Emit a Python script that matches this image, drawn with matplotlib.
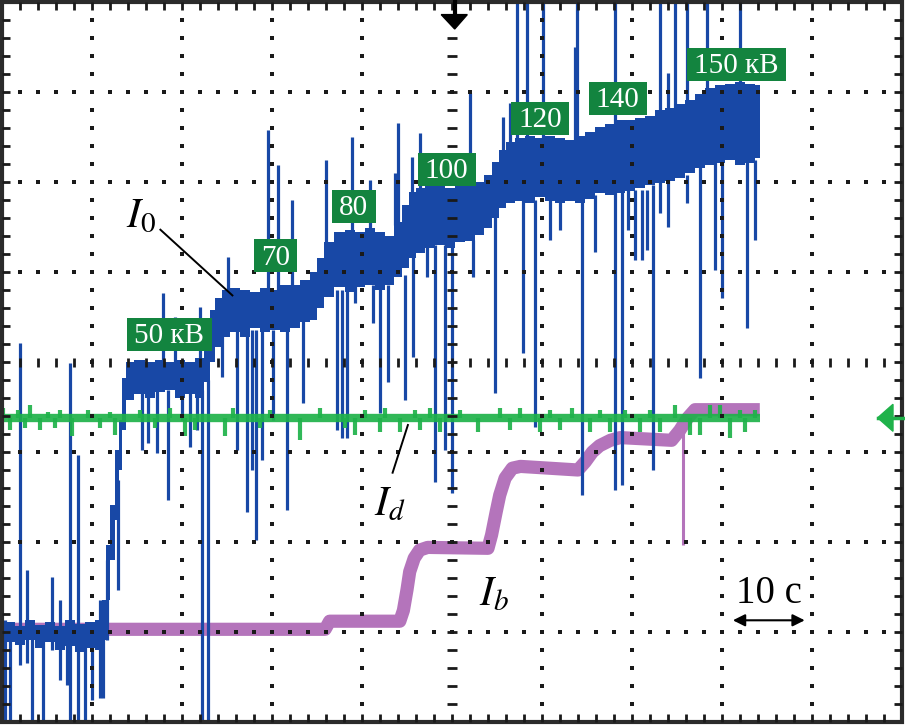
import matplotlib
matplotlib.use('Agg')
import matplotlib.pyplot as plt
from matplotlib.patches import Rectangle, Polygon
import numpy as np

# oscilloscope screen, all values in divisions (10 x 8 screen)
# I0 : noisy band envelope (time, top, bottom)
i0_t = [0.00, 0.09, 0.20, 0.31, 0.42, 0.53, 0.64, 0.76, 0.87, 0.98, 1.09,
        1.14, 1.18, 1.22, 1.28, 1.31, 1.36, 1.40,
        1.53, 1.64, 1.76, 1.87, 1.98, 2.09, 2.20,
        2.29, 2.33, 2.40, 2.48,
        2.59, 2.70, 2.81, 2.92, 3.03, 3.14, 3.26, 3.37, 3.48,
        3.53, 3.62, 3.76, 3.87, 3.98, 4.09, 4.20, 4.31, 4.40,
        4.48, 4.56, 4.64, 4.76, 4.87, 4.98, 5.09, 5.20, 5.31, 5.40,
        5.48, 5.56, 5.64, 5.76, 5.87, 5.98, 6.09, 6.20, 6.31, 6.42, 6.53,
        6.64, 6.76, 6.87, 6.98, 7.09, 7.20, 7.31, 7.42, 7.53, 7.64, 7.76,
        7.87, 7.98, 8.09, 8.20, 8.31, 8.42]
i0_top = [-2.91, -2.89, -2.93, -2.87, -2.92, -2.89, -2.93, -2.87, -2.91, -2.89, -2.87,
          -2.64, -2.03, -1.59, -0.98, -0.64, -0.18, 0.00,
          0.02, 0.00, 0.02, 0.00, 0.02, 0.00, 0.04,
          0.24, 0.58, 0.71, 0.80,
          0.82, 0.80, 0.78, 0.82, 0.80, 0.86, 0.86, 0.91, 1.00,
          1.16, 1.33, 1.44, 1.47, 1.44, 1.49, 1.44, 1.40, 1.56,
          1.74, 1.89, 1.93, 1.96, 1.97, 1.93, 1.97, 1.98, 2.00, 2.08,
          2.22, 2.36, 2.44, 2.49, 2.51, 2.49, 2.51, 2.49, 2.47, 2.51, 2.56,
          2.61, 2.64, 2.69, 2.69, 2.71, 2.73, 2.80, 2.82, 2.87, 2.91, 2.98,
          3.04, 3.08, 3.09, 3.11, 3.09, 3.08]
i0_bot = [-3.09, -3.11, -3.14, -3.09, -3.18, -3.11, -3.20, -3.16, -3.22, -3.18, -3.20,
          -3.09, -2.64, -2.20, -1.76, -1.20, -0.76, -0.42,
          -0.36, -0.40, -0.33, -0.31, -0.40, -0.35, -0.40,
          -0.22, 0.00, 0.17, 0.28,
          0.33, 0.28, 0.38, 0.33, 0.36, 0.33, 0.38, 0.45, 0.47,
          0.60, 0.72, 0.83, 0.78, 0.83, 0.86, 0.80, 0.86, 0.94,
          1.05, 1.16, 1.21, 1.27, 1.30, 1.27, 1.33, 1.35, 1.41, 1.49,
          1.60, 1.71, 1.77, 1.79, 1.77, 1.83, 1.79, 1.77, 1.79, 1.77, 1.81,
          1.88, 1.86, 1.88, 1.90, 1.93, 1.97, 1.99, 2.01, 2.05, 2.10, 2.16,
          2.19, 2.21, 2.24, 2.19, 2.21, 2.27]

# I0 spikes: time, from, to
sp_t = [0.03, 0.09, 0.20, 0.28, 0.33, 0.46, 0.56, 0.64, 0.72, 0.76, 0.84, 0.92,
        1.00, 1.09, 1.12, 1.17, 1.29,
        1.56, 1.62, 1.72, 1.79, 1.84, 1.92, 2.00, 2.09, 2.17, 2.20, 2.22, 2.29,
        2.44, 2.51, 2.61, 2.72, 2.78, 2.82, 2.89, 2.96, 3.01, 3.07, 3.17, 3.22,
        3.34, 3.60, 3.72, 3.78, 3.83,
        3.89, 3.92, 4.09, 4.12, 4.20, 4.29, 4.37, 4.40, 4.48, 4.56, 4.57, 4.64,
        4.72, 4.81, 4.92, 5.00, 5.20, 5.23, 5.48, 5.57, 5.64, 5.72, 5.79, 5.83,
        5.92, 6.01, 6.09, 6.20, 6.37, 6.39, 6.44,
        6.59, 6.81, 6.81, 6.89, 6.96, 7.03, 7.11, 7.17, 7.23, 7.31, 7.31, 7.40,
        7.40, 7.48, 7.61, 7.61, 7.76, 7.83, 7.92, 8.00, 8.20, 8.28, 8.37]
sp_a = [-2.87, -3.00, 0.21, -2.31, -3.00, -3.00, -2.39, -2.64, -2.92, -0.01, -1.03, -3.00,
        -2.98, -2.64, -2.96, -2.20, -1.31,
        -0.31, -0.31, -0.31, 0.77, -0.31, 0.50, -0.31, -0.31, -0.31, 0.61, -0.31, -0.20,
        0.36, 1.17, 0.36, 0.36, 0.36, 0.36, 0.36, 2.58, 0.36, 2.19, 0.36, 1.80,
        0.47, 2.24, 0.80, 0.80, 0.80,
        2.50, 0.86, 2.02, 0.86, 0.86, 0.86, 2.10, 2.66, 0.97, 2.28, 1.19, 2.54,
        1.30, 1.30, 1.30, 1.30, 2.99, 1.36, 1.63, 2.72, 2.88, 4.00, 1.80, 4.00,
        1.80, 4.00, 1.86, 1.86, 3.50, 4.00, 1.86,
        1.86, 4.00, 1.91, 1.91, 1.91, 1.91, 1.91, 1.91, 1.97, 4.00, 2.02, 3.21,
        2.02, 4.00, 4.00, 2.08, 2.19, 4.00, 2.22, 2.24, 4.00, 2.24, 2.24]
sp_b = [-4.00, -4.00, -3.37, -3.34, -4.00, -4.00, -3.20, -3.53, -3.59, -4.00, -4.00, -4.00,
        -3.76, -3.73, -3.73, -3.09, -2.53,
        -0.98, -0.90, -1.01, -0.09, -1.53, -0.09, -0.64, -0.94, -0.76, 0.02, -4.00, -4.00,
        -0.17, 0.69, -0.98, -1.67, -1.20, -1.98, -1.09, 0.80, -0.64, 0.80, -1.64, 0.80,
        -0.46, 1.24, -0.76, -0.84, -0.84,
        1.41, 0.66, 1.41, 0.43, -0.57, -0.22, 1.52, 1.52, -0.42, 1.80, 0.06, 1.91,
        0.94, -1.33, -0.98, -1.46, 1.97, 0.94, -0.34, 2.36, 2.41, 2.47, 0.10, 2.47,
        -0.72, 2.47, 1.36, 1.47, 2.47, 2.47, -1.48,
        1.22, 2.63, -1.42, -1.37, 1.47, 1.13, 1.13, 1.24, -1.20, 2.80, 1.66, 2.80,
        1.50, 2.82, 2.91, 1.77, -0.18, 3.02, 1.02, 0.71, 3.08, 0.38, 1.36]

# Id : flat level with small spikes
id_level = -0.62
id_end = 8.42
id_sp_t = [0.01, 0.09, 0.18, 0.26, 0.31, 0.42, 0.51, 0.59, 0.64, 0.78, 0.96, 1.09,
           1.20, 1.26, 1.53, 1.70, 1.87, 2.03, 2.14, 2.48, 2.57, 2.87, 2.98, 3.31,
           3.53, 3.81, 3.92, 4.03, 4.20, 4.26, 4.42, 4.59, 4.64, 4.76, 4.87, 5.09,
           5.29, 5.53, 5.64, 5.76, 5.98, 6.09, 6.20, 6.33, 6.53, 6.64, 6.76, 6.92,
           7.09, 7.20, 7.31, 7.48, 7.64, 7.76, 7.87, 7.98, 8.09, 8.20, 8.26, 8.37]
id_sp_v = [-0.51, -0.76, -0.53, -0.73, -0.48, -0.76, -0.56, -0.73, -0.53, -0.82, -0.53, -0.73,
           -0.56, -0.81, -0.53, -0.73, -0.51, -0.82, -0.76, -0.82, -0.51, -0.73, -0.53, -0.87,
           -0.51, -0.73, -0.81, -0.53, -0.78, -0.51, -0.78, -0.53, -0.76, -0.51, -0.78, -0.53,
           -0.78, -0.51, -0.76, -0.51, -0.78, -0.53, -0.76, -0.51, -0.78, -0.53, -0.78, -0.53,
           -0.78, -0.53, -0.78, -0.48, -0.81, -0.81, -0.48, -0.48, -0.84, -0.53, -0.78, -0.53]

# Ib : stepped beam current
ib_t = [0.00, 3.59, 3.64, 4.42, 4.46, 4.50, 4.53, 4.58, 4.64, 4.73, 5.40, 5.44, 5.49,
        5.53, 5.59, 5.67, 5.76, 6.40, 6.48, 6.56, 6.64, 6.76, 6.87, 7.44, 7.53,
        7.62, 7.70, 8.42]
ib_v = [-2.97, -2.97, -2.88, -2.88, -2.76, -2.53, -2.33, -2.18, -2.09, -2.06, -2.07, -1.92, -1.67,
        -1.48, -1.29, -1.18, -1.16, -1.20, -1.11, -1.00, -0.93, -0.87, -0.84, -0.87, -0.76,
        -0.62, -0.53, -0.53]
ib_dip = (7.57, -0.76, -2.03)

# voltage labels
kv_text = ['50 кВ', '70', '80', '100', '120', '140', '150 кВ']
kv_t = [1.86, 3.04, 3.91, 4.94, 5.98, 6.84, 8.16]
kv_y = [0.31, 1.18, 1.73, 2.14, 2.71, 2.93, 3.31]

blue = '#1848a6'
green = '#1fb24a'
pink = '#b474bb'
boxgreen = '#13843f'
ink = '#1a1a1a'

plt.rcParams['mathtext.fontset'] = 'stix'

fig = plt.figure(figsize=(9.05, 7.25), dpi=100)
ax = fig.add_axes([0, 0, 1, 1])
ax.set_xlim(-2 / 90, 903 / 90)
ax.set_ylim(-363 / 90, 362 / 90)
ax.set_axis_off()

# traces
ax.plot(ib_t, ib_v, color=pink, lw=9.5, solid_capstyle='butt', zorder=2)
ax.vlines(ib_dip[0], ib_dip[2], ib_dip[1], color=pink, lw=2.2, zorder=2)

ax.fill_between(i0_t, i0_bot, i0_top, step='mid', color=blue, lw=0, zorder=3)
ax.vlines(sp_t, sp_b, sp_a, color=blue, lw=2.3, zorder=3)

ax.plot([0, id_end], [id_level, id_level], color=green, lw=6, solid_capstyle='butt',
        alpha=0.92, zorder=4)
ax.vlines(id_sp_t, id_level, id_sp_v, color=green, lw=3, alpha=0.92, zorder=4)

# screen graticule
gx = np.round(np.arange(0, 10.001, 0.2), 2)
gy = np.round(np.arange(-4, 4.001, 0.2), 2)
for x in [1, 2, 3, 4, 6, 7, 8, 9]:
    ax.plot(np.full(len(gy), x), gy, ls='none', marker='s', ms=2.3, mew=0,
            color=ink, zorder=6)
for y in [-3, -2, -1, 1, 2, 3]:
    ax.plot(gx, np.full(len(gx), y), ls='none', marker='s', ms=2.3, mew=0,
            color=ink, zorder=6)
ax.vlines(gx[1:-1], -0.05, 0.05, color=ink, lw=2, zorder=6)
ax.hlines(gy[1:-1], 4.94, 5.06, color=ink, lw=2, zorder=6)

# frame and edge ticks
ax.add_patch(Rectangle((0, -4), 10, 8, fill=False, lw=3, ec='#2b2b2b', zorder=7))
ax.vlines(gx[1:-1], 4 - 0.085, 4, color=ink, lw=2, zorder=7)
ax.vlines(gx[1:-1], -4, -4 + 0.085, color=ink, lw=2, zorder=7)
ax.hlines(gy[1:-1], 0, 0.09, color=ink, lw=2, zorder=7)
ax.hlines(gy[1:-1], 10 - 0.09, 10, color=ink, lw=2, zorder=7)

# trigger / ground markers
ax.plot([5.03, 5.03], [4.02, 3.84], color='black', lw=3, zorder=8)
ax.add_patch(Polygon([[4.88, 3.86], [5.17, 3.86], [5.03, 3.70]], closed=True,
                     color='black', zorder=8))
ax.plot([9.73, 10.05], [id_level, id_level], color=green, lw=2.5, zorder=8)
ax.add_patch(Polygon([[9.73, id_level], [9.90, id_level + 0.15], [9.90, id_level - 0.15]],
                     closed=True, color=green, zorder=8))

# voltage boxes: green rectangle sized from the text width
renderer = fig.canvas.get_renderer()
for s, x, y in zip(kv_text, kv_t, kv_y):
    t = ax.text(x, y - 0.02, s, ha='center', va='center', color='white', fontsize=21,
                family='Liberation Serif', zorder=9)
    w = t.get_window_extent(renderer).width / 90 + 0.16
    h = 33 / 90
    ax.add_patch(Rectangle((x - w / 2, y - h / 2), w, h, color=boxgreen, lw=0, zorder=8.5))

# trace labels
ax.text(1.38, 1.50, r'$I_0$', fontsize=30, ha='left', va='baseline', zorder=9)
ax.plot([1.76, 2.56], [1.47, 0.74], color='black', lw=1.4, zorder=9)
ax.text(4.13, -1.70, r'$I_d$', fontsize=30, ha='left', va='baseline', zorder=9)
ax.plot([4.34, 4.51], [-1.23, -0.70], color='black', lw=1.4, zorder=9)
ax.text(5.30, -2.70, r'$I_b$', fontsize=30, ha='left', va='baseline', zorder=9)

# time scale
ax.text(8.52, -2.68, '10 c', fontsize=28, family='Liberation Serif', ha='center',
        va='baseline', zorder=9)
ax.annotate('', xy=(8.95, -2.87), xytext=(8.09, -2.87),
            arrowprops=dict(arrowstyle='<|-|>', color='black', lw=1.5, mutation_scale=18),
            zorder=9)

fig.savefig('out.png', dpi=100)
